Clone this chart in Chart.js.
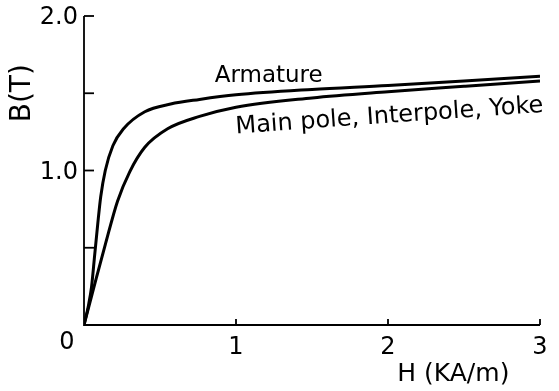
<!DOCTYPE html>
<html>
<head>
<meta charset="utf-8">
<script src="https://cdn.jsdelivr.net/npm/chart.js"></script>
<style>
  html, body { margin: 0; padding: 0; background: #fff; }
  #wrap { width: 559px; height: 391px; position: relative; }
</style>
</head>
<body>
<div id="wrap"><canvas id="bh-chart"></canvas></div>
<script>
// B-H curves
const armatureH = [0, 0.03, 0.05, 0.07, 0.09, 0.11, 0.14, 0.19, 0.26, 0.4, 0.57, 0.76, 1.0, 1.5, 2.0, 2.5, 3.0];
const armatureB = [0, 0.13, 0.25, 0.45, 0.65, 0.83, 1.0, 1.16, 1.27, 1.38, 1.43, 1.46, 1.49, 1.525, 1.55, 1.58, 1.61];
const mainPoleH = [0, 0.04, 0.08, 0.14, 0.22, 0.3, 0.4, 0.55, 0.76, 1.0, 1.5, 2.0, 2.5, 3.0];
const mainPoleB = [0, 0.15, 0.3, 0.52, 0.8, 0.99, 1.15, 1.27, 1.35, 1.41, 1.47, 1.51, 1.545, 1.58];

const xTicks = [1, 2, 3];
const xTickLabels = ['1', '2', '3'];
const yTicks = [0.5, 1.0, 1.5, 2.0];
const yTickLabels = ['', '1.0', '', '2.0'];

const FONT = '"DejaVu Sans", sans-serif';

function toPoints(xs, ys) {
  return xs.map((x, i) => ({ x: x, y: ys[i] }));
}

// axes, inward ticks and all the lettering
const axesPlugin = {
  id: 'axesPlugin',
  afterDatasetsDraw(chart) {
    const c = chart.ctx;
    const xs = chart.scales.x;
    const ys = chart.scales.y;
    const x0 = xs.getPixelForValue(0);
    const y0 = ys.getPixelForValue(0);
    c.save();
    c.strokeStyle = '#000';
    c.fillStyle = '#000';
    c.lineWidth = 1.8;

    // axis lines
    c.beginPath();
    c.moveTo(x0, ys.getPixelForValue(2.0));
    c.lineTo(x0, y0);
    c.lineTo(xs.getPixelForValue(3), y0);
    c.stroke();

    // y ticks point right
    c.font = '24px ' + FONT;
    c.textAlign = 'right';
    c.textBaseline = 'middle';
    yTicks.forEach((v, i) => {
      const py = ys.getPixelForValue(v);
      c.beginPath();
      c.moveTo(x0, py);
      c.lineTo(x0 + 10, py);
      c.stroke();
      if (yTickLabels[i]) c.fillText(yTickLabels[i], x0 - 6, py + 2);
    });

    // x ticks point up
    c.textAlign = 'center';
    c.textBaseline = 'top';
    xTicks.forEach((v, i) => {
      const px = xs.getPixelForValue(v);
      c.beginPath();
      c.moveTo(px, y0);
      c.lineTo(px, y0 - 6);
      c.stroke();
      c.fillText(xTickLabels[i], px, y0 + 11);
    });

    // shared origin label
    c.fillText('0', x0 - 17, y0 + 6);

    // axis titles
    c.font = '25px ' + FONT;
    c.fillText('H (KA/m)', xs.getPixelForValue(2.43), y0 + 37);
    c.save();
    c.translate(x0 - 61, ys.getPixelForValue(1.5));
    c.rotate(-Math.PI / 2);
    c.textBaseline = 'middle';
    c.font = '28px ' + FONT;
    c.fillText('B(T)', 0, 0);
    c.restore();

    // curve labels
    c.textAlign = 'left';
    c.textBaseline = 'alphabetic';
    c.font = '23px ' + FONT;
    c.fillText('Armature', xs.getPixelForValue(0.86), ys.getPixelForValue(1.57));
    c.save();
    c.translate(xs.getPixelForValue(1.0), ys.getPixelForValue(1.24));
    c.rotate(-4 * Math.PI / 180);
    c.font = '24px ' + FONT;
    c.fillText('Main pole, Interpole, Yoke', 0, 0);
    c.restore();

    c.restore();
  }
};

const ctx = document.getElementById('bh-chart').getContext('2d');
const bhChart = new Chart(ctx, {
  type: 'line',
  data: {
    datasets: [
      {
        label: 'Armature',
        data: toPoints(armatureH, armatureB),
        borderColor: '#000',
        borderWidth: 3,
        pointRadius: 0,
        cubicInterpolationMode: 'monotone',
      },
      {
        label: 'Main pole, Interpole, Yoke',
        data: toPoints(mainPoleH, mainPoleB),
        borderColor: '#000',
        borderWidth: 3,
        pointRadius: 0,
        cubicInterpolationMode: 'monotone',
      },
    ],
  },
  options: {
    responsive: true,
    maintainAspectRatio: false,
    animation: false,
    layout: {
      padding: { left: 84, top: 16, right: 19, bottom: 66 },
    },
    scales: {
      x: {
        type: 'linear',
        min: 0,
        max: 3,
        ticks: { display: false },
        grid: { display: false, drawTicks: false },
        border: { display: false },
        afterFit: s => { s.height = 0; },
      },
      y: {
        min: 0,
        max: 2,
        ticks: { display: false },
        grid: { display: false, drawTicks: false },
        border: { display: false },
        afterFit: s => { s.width = 0; },
      },
    },
    plugins: {
      legend: { display: false },
      tooltip: { enabled: false },
    },
  },
  plugins: [axesPlugin],
});
</script>
</body>
</html>
